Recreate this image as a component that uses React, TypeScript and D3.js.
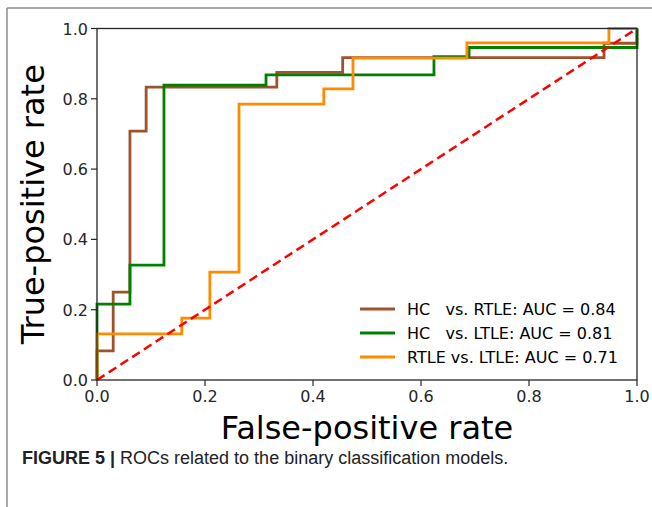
import React from "react";
import * as d3 from "d3";

// ROC vertices (false-positive rate, true-positive rate)
const hcRtleFpr = [0, 0, 0.03, 0.03, 0.061, 0.061, 0.091, 0.091, 0.333, 0.333, 0.455, 0.455, 0.939, 0.939, 1, 1];
const hcRtleTpr = [0, 0.083, 0.083, 0.25, 0.25, 0.708, 0.708, 0.833, 0.833, 0.875, 0.875, 0.917, 0.917, 0.958, 0.958, 1];

const hcLtleFpr = [0, 0, 0.061, 0.061, 0.124, 0.124, 0.313, 0.313, 0.624, 0.624, 0.689, 0.689, 1, 1];
const hcLtleTpr = [0, 0.216, 0.216, 0.327, 0.327, 0.839, 0.839, 0.868, 0.868, 0.92, 0.92, 0.946, 0.946, 1];

const rtleLtleFpr = [0, 0, 0.157, 0.157, 0.209, 0.209, 0.263, 0.263, 0.42, 0.42, 0.474, 0.474, 0.685, 0.685, 0.948, 0.948, 1];
const rtleLtleTpr = [0, 0.131, 0.131, 0.176, 0.176, 0.307, 0.307, 0.785, 0.785, 0.828, 0.828, 0.916, 0.916, 0.959, 0.959, 1, 1];

const seriesLabels = [
  "HC   vs. RTLE: AUC = 0.84",
  "HC   vs. LTLE: AUC = 0.81",
  "RTLE vs. LTLE: AUC = 0.71",
];
const seriesColors = ["#a0522d", "#008000", "#ff8c00"];
const ticks = [0, 0.2, 0.4, 0.6, 0.8, 1.0];

export default function App() {
  const left = 97;
  const right = 637;
  const top = 28.5;
  const bottom = 380;
  const font = "DejaVu Sans, sans-serif";
  const axisColor = "#262626";

  const x = d3.scaleLinear().domain([0, 1]).range([left, right]);
  const y = d3.scaleLinear().domain([0, 1]).range([bottom, top]);

  const line = d3
    .line<[number, number]>()
    .x(d => x(d[0]))
    .y(d => y(d[1]));

  const series = [
    [hcRtleFpr, hcRtleTpr],
    [hcLtleFpr, hcLtleTpr],
    [rtleLtleFpr, rtleLtleTpr],
  ].map(([f, t]) => f.map((v, i) => [v, t[i]] as [number, number]));

  return (
    <svg
      width={652}
      height={507}
      style={{ position: "absolute", left: 0, top: 0, background: "#fff" }}
    >
      {/* figure frame */}
      <line x1={7} y1={8} x2={652} y2={8} stroke="#8c8c8c" strokeWidth={1.5} />
      <line x1={7} y1={8} x2={7} y2={507} stroke="#8c8c8c" strokeWidth={1.5} />

      {series.map((pts, i) => (
        <path
          key={i}
          d={line(pts) || ""}
          fill="none"
          stroke={seriesColors[i]}
          strokeWidth={2.8}
          strokeLinejoin="miter"
        />
      ))}
      <path
        d={line([[0, 0], [1, 1]]) || ""}
        fill="none"
        stroke="#ff0000"
        strokeWidth={2.5}
        strokeDasharray="9,5"
      />

      {/* spines */}
      <rect
        x={left}
        y={top}
        width={right - left}
        height={bottom - top}
        fill="none"
        stroke={axisColor}
        strokeWidth={1.3}
      />

      {ticks.map(t => (
        <g key={"x" + t}>
          <line x1={x(t)} x2={x(t)} y1={bottom} y2={bottom + 6} stroke={axisColor} strokeWidth={1.2} />
          <text
            x={x(t)}
            y={bottom + 22}
            textAnchor="middle"
            fontFamily={font}
            fontSize={16}
            fill={axisColor}
          >
            {t.toFixed(1)}
          </text>
        </g>
      ))}
      {ticks.map(t => (
        <g key={"y" + t}>
          <line x1={left - 6} x2={left} y1={y(t)} y2={y(t)} stroke={axisColor} strokeWidth={1.2} />
          <text
            x={left - 9}
            y={y(t) + 6}
            textAnchor="end"
            fontFamily={font}
            fontSize={16}
            fill={axisColor}
          >
            {t.toFixed(1)}
          </text>
        </g>
      ))}

      <text
        x={(left + right) / 2}
        y={439}
        textAnchor="middle"
        fontFamily={font}
        fontSize={32}
        fill="#000"
      >
        False-positive rate
      </text>
      <text
        transform={`translate(44, ${(top + bottom) / 2}) rotate(-90)`}
        textAnchor="middle"
        fontFamily={font}
        fontSize={32}
        fill="#000"
      >
        True-positive rate
      </text>

      {/* legend */}
      {seriesLabels.map((s, i) => (
        <g key={s} transform={`translate(360, ${309 + i * 24})`}>
          <line x1={0} x2={35} y1={0} y2={0} stroke={seriesColors[i]} strokeWidth={2.8} />
          <text
            x={47}
            y={6}
            fontFamily={font}
            fontSize={16}
            fill="#000"
            style={{ whiteSpace: "pre" }}
          >
            {s}
          </text>
        </g>
      ))}

      {/* caption */}
      <text
        x={22}
        y={464}
        fontFamily="Liberation Sans, Arial, sans-serif"
        fontSize={18}
        fill="#222"
        style={{ whiteSpace: "pre" }}
      >
        <tspan fontWeight="bold">FIGURE 5 | </tspan>
        <tspan>ROCs related to the binary classification models.</tspan>
      </text>
    </svg>
  );
}
